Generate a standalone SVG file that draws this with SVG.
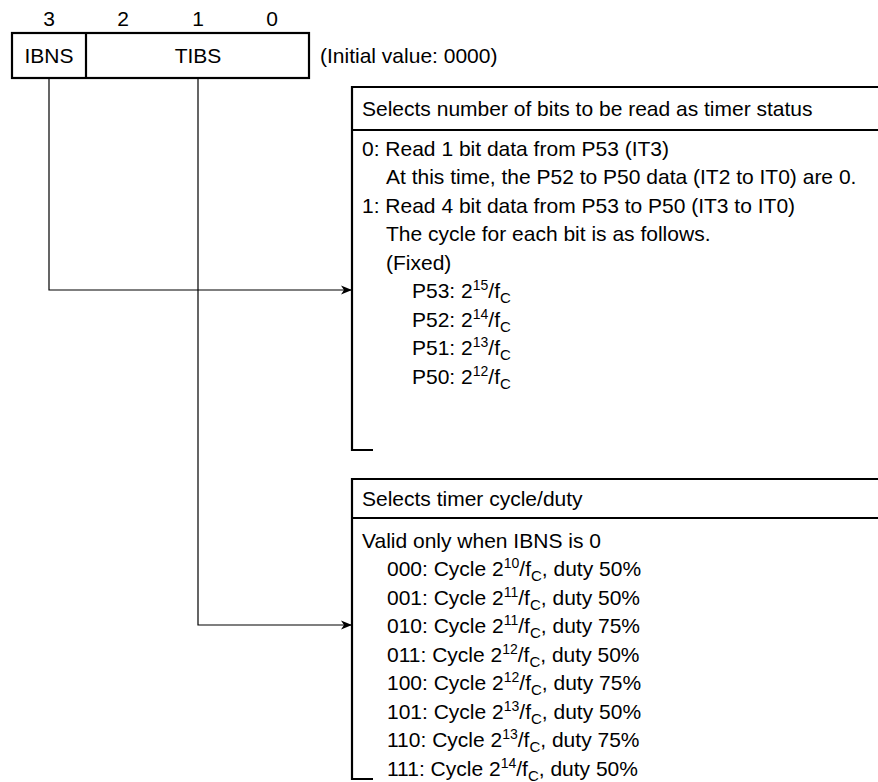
<svg xmlns="http://www.w3.org/2000/svg" width="878" height="782" viewBox="0 0 878 782">
<style>
text{font-family:"Liberation Sans",Arial,sans-serif;font-size:21px;fill:#000}
.c{text-anchor:middle}
.sup{font-size:14px}
.sub{font-size:15px}
.frame{fill:none;stroke:#000;stroke-width:2.2}
.conn{fill:none;stroke:#000;stroke-width:1.2}
</style>
<defs>
<marker id="ah" markerUnits="userSpaceOnUse" markerWidth="12" markerHeight="10" refX="11" refY="5" orient="auto">
<path d="M0,0.5 L11,5 L0,9.5 L3,5 z" fill="#000"/>
</marker>
</defs>
<g id="register">
<text class="c" x="49" y="26">3</text>
<text class="c" x="123" y="26">2</text>
<text class="c" x="198" y="26">1</text>
<text class="c" x="272" y="26">0</text>
<rect class="frame" x="12" y="33" width="297" height="45"/>
<line class="frame" x1="86" y1="33" x2="86" y2="78"/>
<text class="c" x="49" y="63">IBNS</text>
<text class="c" x="198" y="63">TIBS</text>
<text x="320" y="63">(Initial value: 0000)</text>
</g>
<g id="connectors">
<path class="conn" d="M49,78 V290 H352" marker-end="url(#ah)"/>
<path class="conn" d="M198,78 V625 H352" marker-end="url(#ah)"/>
</g>
<g id="box-ibns">
<path class="frame" d="M373,450 H352 V87 H880"/>
<line class="frame" x1="352" y1="130" x2="880" y2="130"/>
<text x="362" y="116">Selects number of bits to be read as timer status</text>
<text x="362" y="155.5">0: Read 1 bit data from P53 (IT3)</text>
<text x="386" y="184">At this time, the P52 to P50 data (IT2 to IT0) are 0.</text>
<text x="362" y="212.5">1: Read 4 bit data from P53 to P50 (IT3 to IT0)</text>
<text x="386" y="241">The cycle for each bit is as follows.</text>
<text x="386" y="269.5">(Fixed)</text>
<text x="412" y="298">P53: 2<tspan class="sup" dy="-8">15</tspan><tspan dy="8">/f</tspan><tspan class="sub" dy="5">C</tspan></text>
<text x="412" y="326.5">P52: 2<tspan class="sup" dy="-8">14</tspan><tspan dy="8">/f</tspan><tspan class="sub" dy="5">C</tspan></text>
<text x="412" y="355">P51: 2<tspan class="sup" dy="-8">13</tspan><tspan dy="8">/f</tspan><tspan class="sub" dy="5">C</tspan></text>
<text x="412" y="383.5">P50: 2<tspan class="sup" dy="-8">12</tspan><tspan dy="8">/f</tspan><tspan class="sub" dy="5">C</tspan></text>
</g>
<g id="box-tibs">
<path class="frame" d="M373,779 H352 V479 H880"/>
<line class="frame" x1="352" y1="518" x2="880" y2="518"/>
<text x="362" y="506">Selects timer cycle/duty</text>
<text x="362" y="547.5">Valid only when IBNS is 0</text>
<text x="387" y="576">000: Cycle 2<tspan class="sup" dy="-8">10</tspan><tspan dy="8">/f</tspan><tspan class="sub" dy="5">C</tspan><tspan dy="-5">, duty 50%</tspan></text>
<text x="387" y="604.5">001: Cycle 2<tspan class="sup" dy="-8">11</tspan><tspan dy="8">/f</tspan><tspan class="sub" dy="5">C</tspan><tspan dy="-5">, duty 50%</tspan></text>
<text x="387" y="633">010: Cycle 2<tspan class="sup" dy="-8">11</tspan><tspan dy="8">/f</tspan><tspan class="sub" dy="5">C</tspan><tspan dy="-5">, duty 75%</tspan></text>
<text x="387" y="661.5">011: Cycle 2<tspan class="sup" dy="-8">12</tspan><tspan dy="8">/f</tspan><tspan class="sub" dy="5">C</tspan><tspan dy="-5">, duty 50%</tspan></text>
<text x="387" y="690">100: Cycle 2<tspan class="sup" dy="-8">12</tspan><tspan dy="8">/f</tspan><tspan class="sub" dy="5">C</tspan><tspan dy="-5">, duty 75%</tspan></text>
<text x="387" y="718.5">101: Cycle 2<tspan class="sup" dy="-8">13</tspan><tspan dy="8">/f</tspan><tspan class="sub" dy="5">C</tspan><tspan dy="-5">, duty 50%</tspan></text>
<text x="387" y="747">110: Cycle 2<tspan class="sup" dy="-8">13</tspan><tspan dy="8">/f</tspan><tspan class="sub" dy="5">C</tspan><tspan dy="-5">, duty 75%</tspan></text>
<text x="387" y="775.5">111: Cycle 2<tspan class="sup" dy="-8">14</tspan><tspan dy="8">/f</tspan><tspan class="sub" dy="5">C</tspan><tspan dy="-5">, duty 50%</tspan></text>
</g>
</svg>
